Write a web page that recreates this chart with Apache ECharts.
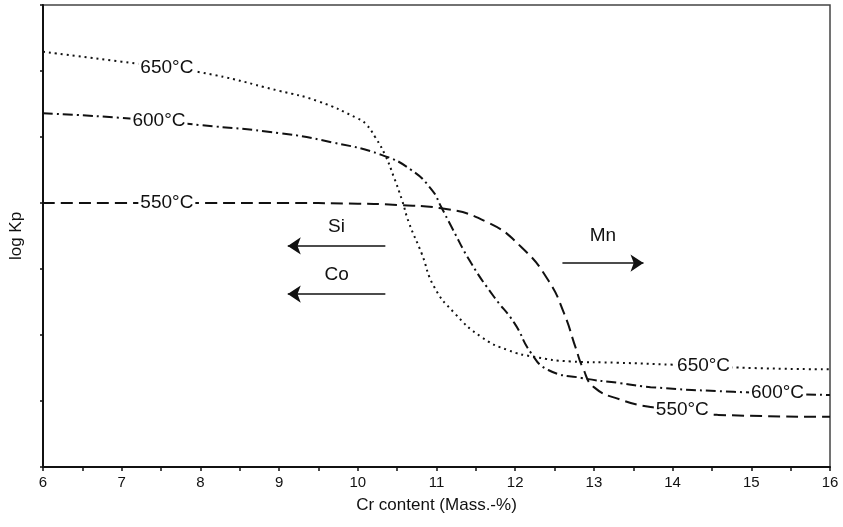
<!DOCTYPE html>
<html>
<head>
<meta charset="utf-8">
<script src="https://cdn.jsdelivr.net/npm/echarts@6/dist/echarts.min.js"></script>
<style>
  html, body { margin: 0; padding: 0; background: #fff; }
  #chart { width: 843px; height: 527px; }
</style>
</head>
<body>
<div id="chart"></div>
<script>
// Cr content (Mass.-%) sampled along each isotherm, with log Kp readings
const cr650 = [6, 7, 8, 9, 9.5, 10, 10.1, 10.22, 10.35, 10.45, 10.56, 10.65, 10.81, 10.97, 11.23, 11.57, 11.91, 12.24, 12.7, 13.3, 14, 15, 16];
const kp650 = [6.29, 6.14, 5.98, 5.70, 5.54, 5.28, 5.20, 5.00, 4.72, 4.42, 4.05, 3.70, 3.24, 2.73, 2.33, 1.97, 1.77, 1.67, 1.60, 1.58, 1.55, 1.50, 1.48];

const cr600 = [6, 7, 8, 9, 9.67, 10.3, 10.68, 10.94, 11.06, 11.19, 11.44, 11.73, 11.99, 12.2, 12.42, 12.84, 13.34, 13.72, 14.77, 16];
const kp600 = [5.36, 5.29, 5.18, 5.06, 4.92, 4.73, 4.50, 4.20, 3.94, 3.64, 3.09, 2.58, 2.18, 1.73, 1.47, 1.35, 1.27, 1.21, 1.14, 1.09];

const cr550 = [6, 7, 8, 9, 10, 10.5, 11.06, 11.66, 12.08, 12.42, 12.62, 12.77, 12.86, 13.0, 13.34, 13.72, 14.57, 16];
const kp550 = [4.0, 4.0, 4.0, 4.0, 3.99, 3.97, 3.92, 3.70, 3.33, 2.83, 2.33, 1.80, 1.50, 1.21, 1.02, 0.91, 0.79, 0.76];

// Isotherm names and where along Cr their inline labels sit
const isoNames = ['650°C', '600°C', '550°C'];
const labelCrLeft = [7.58, 7.48, 7.58];
const labelCrRight = [14.4, 15.34, 14.13];

// Alloying-element arrows: start Cr, end Cr, log Kp level
const elemNames = ['Si', 'Co', 'Mn'];
const elemFrom = [10.35, 10.35, 12.6];
const elemTo = [9.11, 9.11, 13.63];
const elemLevel = [3.35, 2.62, 3.09];

// Axis ticks
const xMin = 6, xMax = 16, xStep = 1;
const yMin = 0, yMax = 7, yStep = 1;

const FONT = "'Liberation Sans Narrow', 'Arial Narrow', 'Liberation Sans', Arial, sans-serif";
const INK = '#111';

function pairs(xs, ys) { return xs.map((x, i) => [x, ys[i]]); }
function interp(xs, ys, x) {
  for (let i = 1; i < xs.length; i++) {
    if (x <= xs[i]) {
      const t = (x - xs[i - 1]) / (xs[i] - xs[i - 1]);
      return ys[i - 1] + t * (ys[i] - ys[i - 1]);
    }
  }
  return ys[ys.length - 1];
}

const curves = [
  { x: cr650, y: kp650, dash: [2, 4] },
  { x: cr600, y: kp600, dash: [10, 4, 2, 4] },
  { x: cr550, y: kp550, dash: [12, 6] }
];

// Each isotherm carries its two inline labels as markPoints on the curve
const series = curves.map((c, i) => ({
  name: isoNames[i],
  type: 'line',
  data: pairs(c.x, c.y),
  smooth: 0.5,
  symbol: 'none',
  silent: true,
  z: 2,
  lineStyle: { color: INK, width: 2, type: c.dash },
  markPoint: {
    silent: true,
    animation: false,
    symbol: 'circle',
    symbolSize: 1,
    itemStyle: { color: 'rgba(0,0,0,0)' },
    label: {
      show: true,
      position: [0, 0],
      align: 'center',
      verticalAlign: 'middle',
      formatter: isoNames[i],
      color: INK,
      textBorderWidth: 0,
      fontFamily: FONT,
      fontSize: 19,
      backgroundColor: '#fff',
      padding: [0, 2]
    },
    data: [labelCrLeft[i], labelCrRight[i]].map(lx => ({
      coord: [lx, interp(c.x, c.y, lx)]
    }))
  }
}));

// Arrows for the alloying elements
series.push({
  type: 'line',
  data: [],
  silent: true,
  markLine: {
    silent: true,
    animation: false,
    symbol: ['none', 'arrow'],
    symbolSize: 13,
    lineStyle: { color: INK, width: 1.6, type: 'solid' },
    label: {
      show: true,
      position: 'insideMiddleTop',
      color: INK,
      fontFamily: FONT,
      fontSize: 19
    },
    data: elemNames.map((n, i) => [
      { coord: [elemFrom[i], elemLevel[i]], name: n,
        label: { formatter: n, distance: n === 'Mn' ? 18 : 10 } },
      { coord: [elemTo[i], elemLevel[i]] }
    ])
  }
});

const chart = echarts.init(document.getElementById('chart'), null, { renderer: 'canvas' });
chart.setOption({
  animation: false,
  backgroundColor: '#fff',
  grid: {
    left: 40, right: 13, top: 5, bottom: 60,
    show: true, borderColor: '#444', borderWidth: 1.5, backgroundColor: 'transparent'
  },
  xAxis: {
    type: 'value',
    min: xMin, max: xMax, interval: xStep,
    name: 'Cr content (Mass.-%)',
    nameLocation: 'middle',
    nameGap: 30,
    nameTextStyle: { color: INK, fontFamily: FONT, fontSize: 17 },
    axisLine: { show: true, lineStyle: { color: INK, width: 2 } },
    axisTick: { show: true, length: 4, lineStyle: { color: INK, width: 1.5 } },
    minorTick: { show: true, splitNumber: 2, length: 4, lineStyle: { color: INK, width: 1.5 } },
    axisLabel: { color: INK, fontFamily: FONT, fontSize: 15, margin: 8 },
    splitLine: { show: false }
  },
  yAxis: {
    type: 'value',
    min: yMin, max: yMax, interval: yStep,
    name: 'log Kp',
    nameLocation: 'middle',
    nameGap: 18,
    nameRotate: 90,
    nameTextStyle: { color: INK, fontFamily: FONT, fontSize: 17 },
    axisLine: { show: true, lineStyle: { color: INK, width: 2 } },
    axisTick: { show: true, length: 3, lineStyle: { color: INK, width: 1.5 } },
    axisLabel: { show: false },
    splitLine: { show: false }
  },
  series: series
});
</script>
</body>
</html>
